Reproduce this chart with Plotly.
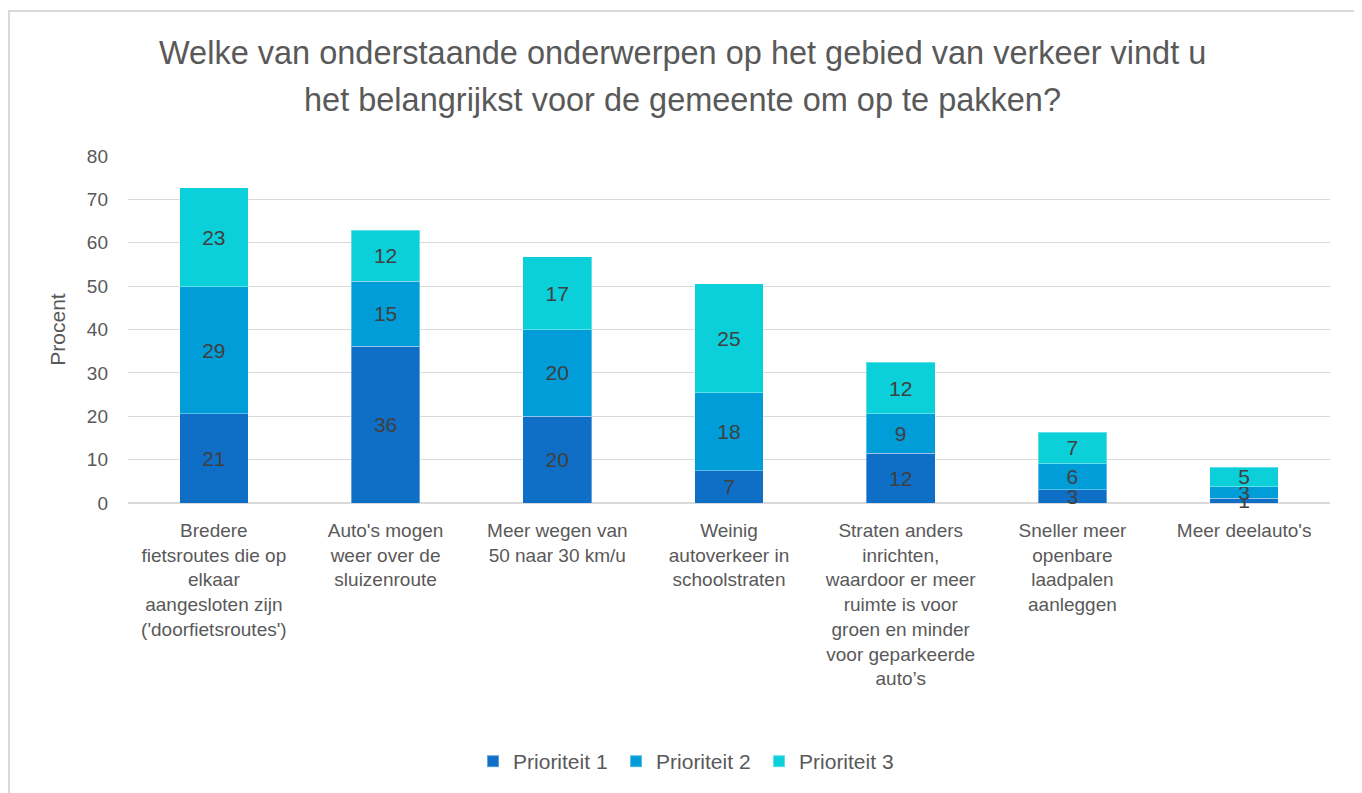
import plotly.graph_objects as go

# Categorieën en waarden (procent)
categories = [
    "Bredere<br>fietsroutes die op<br>elkaar<br>aangesloten zijn<br>('doorfietsroutes')",
    "Auto's mogen<br>weer over de<br>sluizenroute",
    "Meer wegen van<br>50 naar 30 km/u",
    "Weinig<br>autoverkeer in<br>schoolstraten",
    "Straten anders<br>inrichten,<br>waardoor er meer<br>ruimte is voor<br>groen en minder<br>voor geparkeerde<br>auto’s",
    "Sneller meer<br>openbare<br>laadpalen<br>aanleggen",
    "Meer deelauto's",
]

prioriteit_1 = [20.6, 36.1, 20.0, 7.4, 11.5, 3.1, 1.1]
prioriteit_2 = [29.3, 15.0, 20.0, 18.0, 9.1, 6.0, 2.6]
prioriteit_3 = [22.8, 11.8, 16.8, 25.2, 11.8, 7.2, 4.6]

series = [
    ("Prioriteit 1", prioriteit_1, "#0F6FC6"),
    ("Prioriteit 2", prioriteit_2, "#009DD9"),
    ("Prioriteit 3", prioriteit_3, "#0BD0D9"),
]

font_family = "Liberation Sans, Arial, sans-serif"
grey = "#595959"

fig = go.Figure()

for name, values, color in series:
    fig.add_trace(go.Bar(
        x=categories,
        y=values,
        name=name,
        marker=dict(color=color, line=dict(color="rgba(255,255,255,0.35)", width=1)),
        texttemplate="%{y:.0f}",
        textposition="inside",
        insidetextanchor="middle",
        textangle=0,
        textfont=dict(size=21, color="#404040", family=font_family),
        constraintext="none",
        cliponaxis=False,
    ))

fig.update_layout(
    barmode="stack",
    bargap=0.6,
    width=1362,
    height=793,
    margin=dict(l=120, r=40, t=148, b=298),
    paper_bgcolor="white",
    plot_bgcolor="white",
    font=dict(family=font_family, color=grey, size=18),
    uniformtext=dict(minsize=21, mode="show"),
    showlegend=True,
    legend=dict(
        orientation="h",
        x=0.4655,
        xanchor="center",
        y=-0.745,
        yanchor="middle",
        font=dict(size=21, color=grey),
        itemsizing="constant",
        traceorder="normal",
        entrywidth=98,
    ),
    xaxis=dict(
        tickfont=dict(size=19, color=grey),
        showgrid=False,
        showline=False,
        ticks="",
        ticklabelstandoff=14,
    ),
    yaxis=dict(
        range=[0, 80],
        dtick=10,
        tickfont=dict(size=19, color=grey),
        gridcolor="#D9D9D9",
        gridwidth=1,
        zeroline=True,
        zerolinecolor="#D9D9D9",
        zerolinewidth=2,
        showline=False,
        ticks="",
        ticklabelstandoff=19,
        title=dict(text="Procent", font=dict(size=21, color=grey), standoff=15),
    ),
)

# titel in twee regels
fig.add_annotation(
    text="Welke van onderstaande onderwerpen op het gebied van verkeer vindt u",
    xref="paper", yref="paper", x=0.4617, y=1.297,
    xanchor="center", yanchor="middle", showarrow=False,
    font=dict(size=32.5, color=grey, family=font_family),
)
fig.add_annotation(
    text="het belangrijkst voor de gemeente om op te pakken?",
    xref="paper", yref="paper", x=0.4617, y=1.161,
    xanchor="center", yanchor="middle", showarrow=False,
    font=dict(size=32.5, color=grey, family=font_family),
)

# kader rond de grafiek
fig.add_shape(
    type="rect", xref="paper", yref="paper",
    x0=-0.099, x1=1.0233, y0=-0.86, y1=1.418,
    line=dict(color="#D9D9D9", width=2),
    layer="below",
)

fig.write_html("out.html")
